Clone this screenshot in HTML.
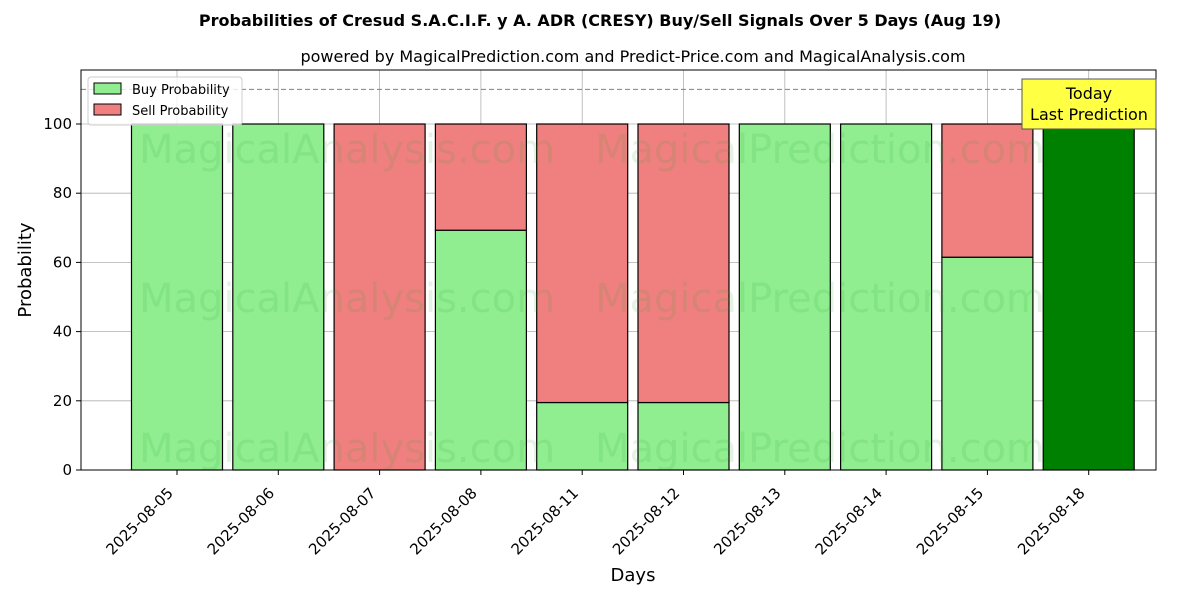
<!DOCTYPE html>
<html><head><meta charset="utf-8"><style>
body{margin:0;background:#fff;font-family:"Liberation Sans","DejaVu Sans",sans-serif}
svg text{font-family:"DejaVu Sans","Liberation Sans",sans-serif}
</style></head><body>
<svg id="c" width="1200" height="600" xmlns="http://www.w3.org/2000/svg">
<text x="600" y="26" text-anchor="middle" font-size="16" font-weight="bold">Probabilities of Cresud S.A.C.I.F. y A. ADR (CRESY) Buy/Sell Signals Over 5 Days (Aug 19)</text>
<text x="633" y="62" text-anchor="middle" font-size="16">powered by MagicalPrediction.com and Predict-Price.com and MagicalAnalysis.com</text>
<g id="grid"></g>
<g id="bars"></g>
<g id="wm" fill="#2ca02c" fill-opacity="0.13" font-size="40" text-anchor="middle">
<text x="347" y="163">MagicalAnalysis.com</text>
<text x="820" y="163">MagicalPrediction.com</text>
<text x="347" y="312">MagicalAnalysis.com</text>
<text x="820" y="312">MagicalPrediction.com</text>
<text x="347" y="462">MagicalAnalysis.com</text>
<text x="820" y="462">MagicalPrediction.com</text>
</g>
<line x1="81" x2="1156" y1="89.4" y2="89.4" stroke="#808080" stroke-dasharray="5,3"/>
<rect x="81" y="70" width="1075" height="400" fill="none" stroke="#000"/>
<g id="axes"></g>
<text transform="translate(31,270) rotate(-90)" text-anchor="middle" font-size="18">Probability</text>
<text x="633" y="581" text-anchor="middle" font-size="18">Days</text>
<g>
<rect x="88" y="77" width="154" height="48" fill="#fff" fill-opacity="0.8" stroke="#ccc" rx="3"/>
<rect x="94" y="83" width="27" height="11" fill="#90ee90" stroke="#000"/>
<text x="132" y="94" font-size="13">Buy Probability</text>
<rect x="94" y="104" width="27" height="11" fill="#f08080" stroke="#000"/>
<text x="132" y="115" font-size="13">Sell Probability</text>
</g>
<g>
<rect x="1022" y="79" width="134" height="50" fill="#ffff44" stroke="#555"/>
<text x="1089" y="99" text-anchor="middle" font-size="16">Today</text>
<text x="1089" y="120" text-anchor="middle" font-size="16">Last Prediction</text>
</g>
</svg>
<script>
const days=["2025-08-05","2025-08-06","2025-08-07","2025-08-08","2025-08-11","2025-08-12","2025-08-13","2025-08-14","2025-08-15","2025-08-18"];
const buyVals=[100,100,0,69.3,19.5,19.5,100,100,61.5,100];
const yTicks=[0,20,40,60,80,100];
const NS="http://www.w3.org/2000/svg";
const xS=i=>177+i*101.3;
const yS=v=>470-v*3.46;
const bw=91;
function mk(t,a,p){const e=document.createElementNS(NS,t);for(const k in a)e.setAttribute(k,a[k]);p.appendChild(e);return e;}
const grid=document.getElementById('grid'),bars=document.getElementById('bars'),axes=document.getElementById('axes');
yTicks.forEach(v=>{
 const l=mk('line',{x1:81,x2:1156,y1:yS(v),y2:yS(v),stroke:'#b0b0b0','stroke-width':0.8},grid);
 
 
 mk('line',{x1:76,x2:81,y1:yS(v),y2:yS(v),stroke:'#000'},axes);
 const t=mk('text',{x:72,y:yS(v)+5,'text-anchor':'end','font-size':15},axes);t.textContent=v;
 
 
});
days.forEach((d,i)=>{
 const x=xS(i);
 const g=mk('line',{x1:x,x2:x,y1:70,y2:470,stroke:'#b0b0b0','stroke-width':0.8},grid);
 
 
 const last=i===days.length-1;
 const b=buyVals[i],s=100-b;
 if(b>0){const r=mk('rect',{x:x-bw/2,y:yS(b),width:bw,height:yS(0)-yS(b),fill:last?'#008000':'#90ee90',stroke:'#000','stroke-width':1.2},bars);
  
  }
 if(s>0){const r=mk('rect',{x:x-bw/2,y:yS(100),width:bw,height:yS(b)-yS(100),fill:last?'#008000':'#f08080',stroke:'#000','stroke-width':1.2},bars);
  
  }
 mk('line',{x1:x,x2:x,y1:470,y2:475,stroke:'#000'},axes);
 const t=mk('text',{x:0,y:0,'text-anchor':'end','font-size':15,transform:`translate(${x-3},${494}) rotate(-45)`},axes);t.textContent=d;
 
 
});
</script>
</body></html>
